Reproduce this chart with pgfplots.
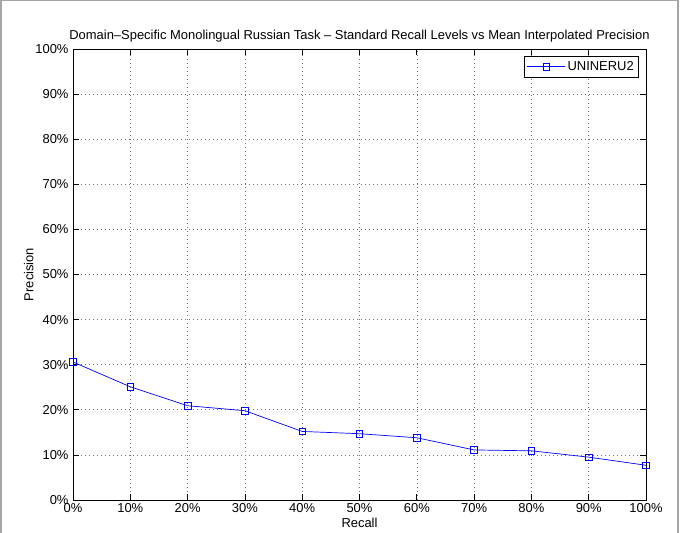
\documentclass[border=0pt]{standalone}
\usepackage{pgfplots}
\pgfplotsset{compat=1.18}
\usepackage{fontspec}
\setmainfont{Liberation Sans}
\begin{document}
\fontsize{13}{15}\selectfont
\begin{tikzpicture}[x=1bp,y=1bp]
\useasboundingbox (0,0) rectangle (680,533);
\draw[gray!70, line width=1.5bp] (0.75,0) -- (0.75,532.25) -- (678,532.25) -- (678,0);
\begin{axis}[
  at={(73bp,33bp)}, anchor=south west,
  scale only axis, width=573bp, height=451bp,
  xmin=0, xmax=100, ymin=0, ymax=100,
  xtick={0,10,...,100}, ytick={0,10,...,100},
  xticklabel={\pgfmathprintnumber{\tick}\%},
  yticklabel={\pgfmathprintnumber{\tick}\%},
  /pgf/number format/assume math mode=true,
  tick label style={font=\fontsize{13}{15}\selectfont},
  label style={font=\fontsize{13}{15}\selectfont},
  xticklabel style={yshift=1bp},
  tick align=inside, major tick length=6bp,
  xtick pos=both, ytick pos=both,
  grid=major,
  major grid style={black!55, dash pattern=on 0.8bp off 3.2bp, line width=0.6bp},
  axis line style={black, line width=0.9bp},
  tick style={black, line width=0.7bp},
  xlabel={Recall}, ylabel={Precision},
  xlabel style={yshift=3bp},
  ylabel style={yshift=-7bp},
  title={Domain--Specific Monolingual Russian Task -- Standard Recall Levels vs Mean Interpolated Precision},
  title style={font=\fontsize{13}{15}\selectfont, yshift=-4bp},
  legend style={draw=black, line width=0.7bp, font=\fontsize{13}{15}\selectfont, inner sep=3bp, at={(0.988,0.985)}, anchor=north east},
  legend image code/.code={\draw[#1, mark repeat=2, mark phase=2] plot coordinates {(0bp,0bp) (19bp,0bp) (38bp,0bp)};},
  legend cell align=left,
]
\addplot[blue, line width=0.7bp, mark=square, mark size=3.3bp, mark options={solid}] coordinates {
(0,30.6) (10,25.1) (20,20.9) (30,19.8) (40,15.2) (50,14.7) (60,13.8) (70,11.1) (80,10.9) (90,9.5) (100,7.7)
};
\addlegendentry{UNINERU2}
\end{axis}
\end{tikzpicture}
\end{document}
